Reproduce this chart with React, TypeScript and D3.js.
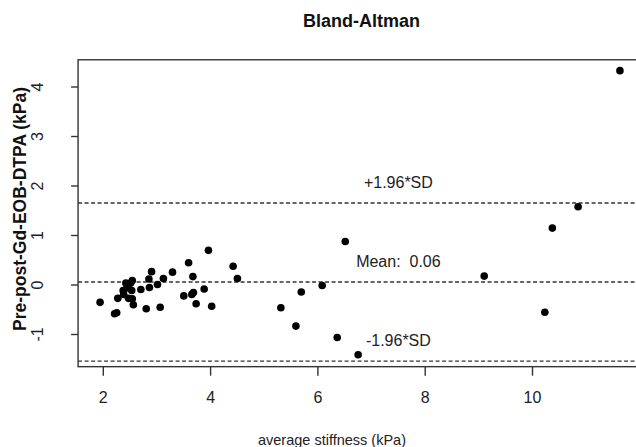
import React from "react";
import * as d3 from "d3";

const avgStiffness = [
  1.94, 2.21, 2.25, 2.27, 2.37, 2.38, 2.44, 2.47, 2.51, 2.54, 2.53, 2.47, 2.54, 2.56,
  2.42, 2.70, 2.80, 2.86, 2.85, 2.90, 3.01, 3.06, 3.12, 3.29, 3.50, 3.59, 3.67, 3.68,
  3.65, 3.73, 3.88, 3.96, 4.02, 4.42, 4.50, 5.31, 5.59, 5.69, 6.08, 6.36, 6.51, 6.75,
  9.10, 10.23, 10.37, 10.85, 11.63,
];
const diffValues = [
  -0.35, -0.58, -0.56, -0.27, -0.11, -0.19, -0.06, -0.02, 0.04, 0.09, -0.11, -0.27, -0.28, -0.40,
  0.04, -0.09, -0.48, -0.05, 0.12, 0.27, 0.01, -0.45, 0.13, 0.26, -0.22, 0.45, 0.17, -0.15,
  -0.19, -0.38, -0.08, 0.70, -0.43, 0.38, 0.13, -0.46, -0.83, -0.14, -0.01, -1.06, 0.88, -1.41,
  0.18, -0.55, 1.15, 1.58, 4.33,
];
const xTicks = [2, 4, 6, 8, 10];
const yTicks = [-1, 0, 1, 2, 3, 4];
const meanDiff = 0.06;
const sdDiff = 0.815;
const xLim = [1.53, 12.1];
const yLim = [-1.65, 4.55];

const FONT = "Arial, 'Liberation Sans', sans-serif";

export default function App() {
  const x = d3.scaleLinear().domain([2, 10]).range([103.3, 532.5]);
  const y = d3.scaleLinear().domain([0, 4]).range([285, 87]);
  const upper = meanDiff + 1.96 * sdDiff;
  const lower = meanDiff - 1.96 * sdDiff;
  const left = x(xLim[0]);
  const right = x(xLim[1]);
  const top = y(yLim[1]);
  const bottom = y(yLim[0]);
  const lines = [upper, meanDiff, lower];
  const labelX = x(7.5);
  const labels = [
    { v: upper, t: "+1.96*SD" },
    { v: meanDiff, t: "Mean:  " + meanDiff.toFixed(2) },
    { v: lower, t: "-1.96*SD" },
  ];
  return (
    <svg
      width={636}
      height={447}
      style={{ position: "absolute", left: 0, top: 0, background: "#fff" }}
      fontFamily={FONT}
    >
      <rect x={0} y={0} width={636} height={447} fill="#fff" />
      <text x={(left + right) / 2} y={27} textAnchor="middle" fontSize={18} fontWeight="bold" fill="#111">
        Bland-Altman
      </text>
      {lines.map((v, i) => (
        <line
          key={i}
          x1={left}
          x2={right}
          y1={y(v)}
          y2={y(v)}
          stroke="#333"
          strokeWidth={1.4}
          strokeDasharray="4,2.5"
        />
      ))}
      {labels.map((l, i) => (
        <text
          key={i}
          x={labelX}
          y={y(l.v + 0.42)}
          textAnchor="middle"
          dominantBaseline="central"
          fontSize={16}
          fill="#222"
          style={{ whiteSpace: "pre" }}
        >
          {l.t}
        </text>
      ))}
      {avgStiffness.map((v, i) => (
        <circle key={i} cx={x(v)} cy={y(diffValues[i])} r={3.8} fill="#000" />
      ))}
      <rect x={left} y={top} width={right - left} height={bottom - top} fill="none" stroke="#333" strokeWidth={1.4} />
      {xTicks.map((t) => (
        <g key={t}>
          <line x1={x(t)} x2={x(t)} y1={bottom} y2={bottom + 9} stroke="#333" strokeWidth={1.4} />
          <text x={x(t)} y={397} textAnchor="middle" dominantBaseline="central" fontSize={16} fill="#222">
            {t}
          </text>
        </g>
      ))}
      {yTicks.map((t) => (
        <g key={t}>
          <line x1={left - 7} x2={left} y1={y(t)} y2={y(t)} stroke="#333" strokeWidth={1.4} />
          <text
            transform={`translate(37,${y(t)}) rotate(-90)`}
            textAnchor="middle"
            dominantBaseline="central"
            fontSize={16}
            fill="#222"
          >
            {t}
          </text>
        </g>
      ))}
      <text x={332} y={440} textAnchor="middle" dominantBaseline="central" fontSize={14.5} fill="#222">
        average stiffness (kPa)
      </text>
      <text
        transform={`translate(20,209) rotate(-90)`}
        textAnchor="middle"
        dominantBaseline="central"
        fontSize={17.5}
        fontWeight="bold"
        fill="#111"
      >
        Pre-post-Gd-EOB-DTPA (kPa)
      </text>
    </svg>
  );
}
